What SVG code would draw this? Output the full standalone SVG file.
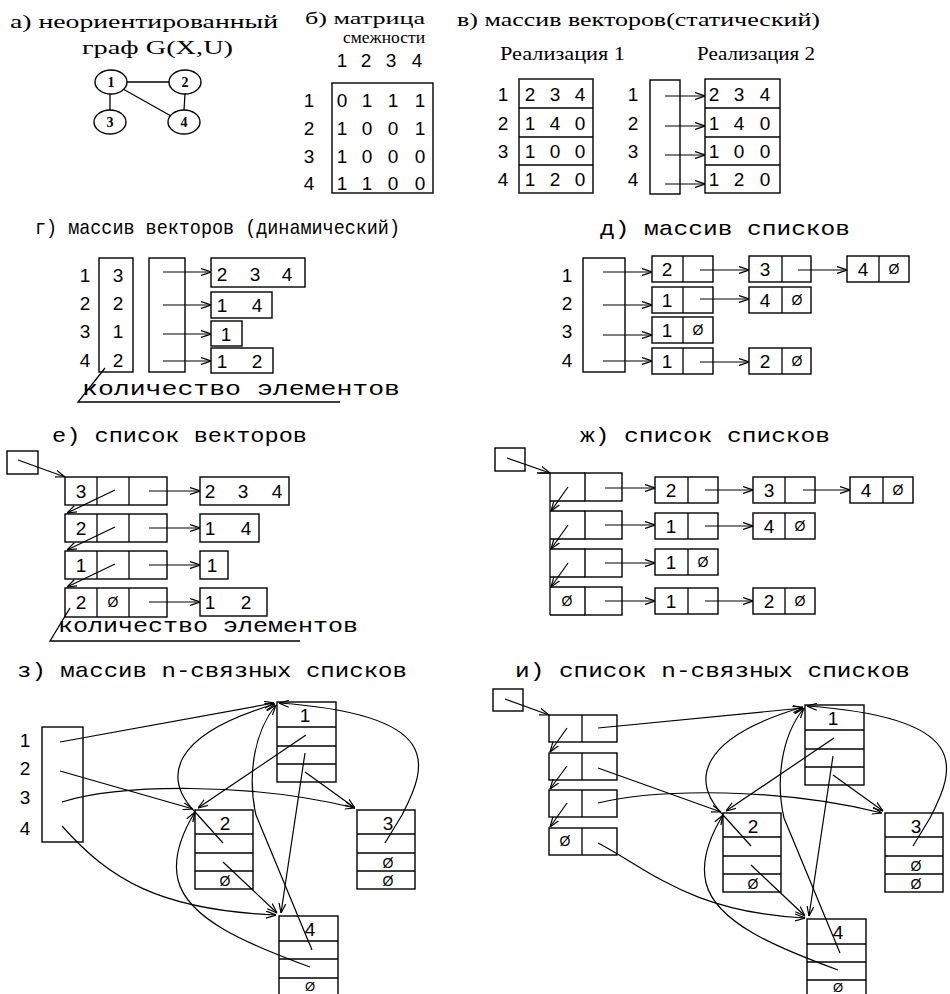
<svg xmlns="http://www.w3.org/2000/svg" width="950" height="994" viewBox="0 0 950 994">
<defs>
<style>
.bg{fill:#fff}
.ln{fill:none;stroke:#000;stroke-width:1.3}
.bx{fill:none;stroke:#000;stroke-width:1.4}
.ar{fill:none;stroke:#000;stroke-width:1.2;marker-end:url(#ah)}
.sr{font-family:"Liberation Serif",serif;font-size:19px;fill:#000}
.mo{font-family:"Liberation Mono",monospace;font-size:21px;fill:#000}
.d{font-family:"Liberation Sans",sans-serif;font-size:19px;fill:#000;text-anchor:middle}
.z{font-family:"Liberation Sans",sans-serif;font-size:14px;fill:#000;text-anchor:middle}
.gn{font-family:"Liberation Serif",serif;font-size:14px;font-weight:bold;fill:#000;text-anchor:middle}
</style>
<marker id="ah" viewBox="0 0 10 8" refX="10" refY="4" markerWidth="10" markerHeight="8" markerUnits="userSpaceOnUse" orient="auto">
<path d="M0,0.5 L10,4 L0,7.5" fill="none" stroke="#000" stroke-width="1.2"/>
</marker>
</defs>
<rect class="bg" x="0" y="0" width="950" height="994"/>

<!-- а) -->
<g id="sec-a">
<text class="sr" x="10" y="28" textLength="268" lengthAdjust="spacingAndGlyphs">а) неориентированный</text>
<text class="sr" x="82" y="54" textLength="151" lengthAdjust="spacingAndGlyphs">граф G(X,U)</text>
<g id="ga-edges">
<line class="ln" x1="127" y1="82" x2="169" y2="82"/>
<line class="ln" x1="110" y1="94" x2="110" y2="110"/>
<line class="ln" x1="123" y1="89" x2="171" y2="116"/>
<line class="ln" x1="185" y1="94" x2="184" y2="110"/>
</g>
<g id="gv1"><ellipse class="bx" cx="111" cy="82" rx="16" ry="12"/><text class="gn" x="111" y="87">1</text></g>
<g id="gv2"><ellipse class="bx" cx="185" cy="82" rx="16" ry="12"/><text class="gn" x="185" y="87">2</text></g>
<g id="gv3"><ellipse class="bx" cx="110" cy="122" rx="16" ry="12"/><text class="gn" x="110" y="127">3</text></g>
<g id="gv4"><ellipse class="bx" cx="184" cy="122" rx="16" ry="12"/><text class="gn" x="184" y="127">4</text></g>
</g>

<!-- б) -->
<g id="sec-b">
<text class="sr" x="305" y="24" textLength="120" lengthAdjust="spacingAndGlyphs" style="font-size:17px">б) матрица</text>
<text class="sr" x="343" y="43" textLength="82" lengthAdjust="spacingAndGlyphs" style="font-size:16px">смежности</text>
<text class="d" x="342" y="67">1</text><text class="d" x="366" y="67">2</text><text class="d" x="391" y="67">3</text><text class="d" x="417" y="67">4</text>
<rect class="bx" x="332" y="83" width="101" height="110"/>
<text class="d" x="309" y="107">1</text><text class="d" x="309" y="135">2</text><text class="d" x="309" y="163">3</text><text class="d" x="309" y="190">4</text>
<text class="d" x="342" y="107">0</text><text class="d" x="367" y="107">1</text><text class="d" x="393" y="107">1</text><text class="d" x="420" y="107">1</text>
<text class="d" x="342" y="135">1</text><text class="d" x="367" y="135">0</text><text class="d" x="393" y="135">0</text><text class="d" x="420" y="135">1</text>
<text class="d" x="342" y="163">1</text><text class="d" x="367" y="163">0</text><text class="d" x="393" y="163">0</text><text class="d" x="420" y="163">0</text>
<text class="d" x="342" y="190">1</text><text class="d" x="367" y="190">1</text><text class="d" x="393" y="190">0</text><text class="d" x="420" y="190">0</text>
</g>

<!-- в) -->
<g id="sec-v">
<text class="sr" x="457" y="26" textLength="363" lengthAdjust="spacingAndGlyphs">в) массив векторов(статический)</text>
<text class="sr" x="500" y="60" textLength="125" lengthAdjust="spacingAndGlyphs">Реализация 1</text>
<text class="sr" x="697" y="60" textLength="118" lengthAdjust="spacingAndGlyphs">Реализация 2</text>
<g id="v-r1">
<rect class="bx" x="519" y="79" width="74" height="114"/>
<line class="ln" x1="519" y1="108" x2="593" y2="108"/><line class="ln" x1="519" y1="137" x2="593" y2="137"/><line class="ln" x1="519" y1="165" x2="593" y2="165"/>
<text class="d" x="503" y="101">1</text><text class="d" x="503" y="130">2</text><text class="d" x="503" y="158">3</text><text class="d" x="503" y="186">4</text>
<text class="d" x="530" y="101">2</text><text class="d" x="555" y="101">3</text><text class="d" x="580" y="101">4</text>
<text class="d" x="530" y="130">1</text><text class="d" x="555" y="130">4</text><text class="d" x="580" y="130">0</text>
<text class="d" x="530" y="158">1</text><text class="d" x="555" y="158">0</text><text class="d" x="580" y="158">0</text>
<text class="d" x="530" y="186">1</text><text class="d" x="555" y="186">2</text><text class="d" x="580" y="186">0</text>
</g>
<g id="v-r2">
<rect class="bx" x="650" y="80" width="30" height="114"/>
<rect class="bx" x="705" y="79" width="75" height="114"/>
<line class="ln" x1="705" y1="108" x2="780" y2="108"/><line class="ln" x1="705" y1="137" x2="780" y2="137"/><line class="ln" x1="705" y1="165" x2="780" y2="165"/>
<text class="d" x="633" y="101">1</text><text class="d" x="633" y="130">2</text><text class="d" x="633" y="158">3</text><text class="d" x="633" y="186">4</text>
<text class="d" x="714" y="101">2</text><text class="d" x="739" y="101">3</text><text class="d" x="765" y="101">4</text>
<text class="d" x="714" y="130">1</text><text class="d" x="739" y="130">4</text><text class="d" x="765" y="130">0</text>
<text class="d" x="714" y="158">1</text><text class="d" x="739" y="158">0</text><text class="d" x="765" y="158">0</text>
<text class="d" x="714" y="186">1</text><text class="d" x="739" y="186">2</text><text class="d" x="765" y="186">0</text>
</g>
<g id="v-conn">
<line class="ar" x1="665" y1="96" x2="705" y2="96"/>
<line class="ar" x1="665" y1="126" x2="705" y2="126"/>
<line class="ar" x1="665" y1="155" x2="705" y2="155"/>
<line class="ar" x1="665" y1="184" x2="705" y2="184"/>
</g>
</g>

<!-- г) -->
<g id="sec-g">
<text class="mo" x="35" y="234" textLength="365" lengthAdjust="spacingAndGlyphs">г) массив векторов (динамический)</text>
<g id="g-count">
<rect class="bx" x="99" y="258" width="34" height="114"/>
<text class="d" x="85" y="282">1</text><text class="d" x="85" y="310">2</text><text class="d" x="85" y="338">3</text><text class="d" x="85" y="367">4</text>
<text class="d" x="118" y="282">3</text><text class="d" x="118" y="310">2</text><text class="d" x="118" y="338">1</text><text class="d" x="118" y="367">2</text>
</g>
<g id="g-ptr"><rect class="bx" x="149" y="258" width="36" height="114"/></g>
<g id="g-v1"><rect class="bx" x="211" y="258" width="94" height="29"/><text class="d" x="222" y="281">2</text><text class="d" x="255" y="281">3</text><text class="d" x="287" y="281">4</text></g>
<g id="g-v2"><rect class="bx" x="211" y="292" width="61" height="26"/><text class="d" x="222" y="312">1</text><text class="d" x="257" y="312">4</text></g>
<g id="g-v3"><rect class="bx" x="211" y="321" width="31" height="25"/><text class="d" x="226" y="341">1</text></g>
<g id="g-v4"><rect class="bx" x="211" y="348" width="62" height="25"/><text class="d" x="222" y="368">1</text><text class="d" x="257" y="368">2</text></g>
<g id="g-conn">
<line class="ar" x1="163" y1="272" x2="211" y2="272"/>
<line class="ar" x1="163" y1="305" x2="211" y2="305"/>
<line class="ar" x1="163" y1="334" x2="211" y2="334"/>
<line class="ar" x1="163" y1="361" x2="211" y2="361"/>
</g>
<g id="g-note">
<polyline class="ln" points="105,368 78,402 340,402"/>
<text class="mo" x="82" y="395" textLength="318" lengthAdjust="spacingAndGlyphs">количество элементов</text>
</g>
</g>

<!-- д) -->
<g id="sec-d">
<text class="mo" x="600" y="235" textLength="250" lengthAdjust="spacingAndGlyphs">д) массив списков</text>
<g id="d-arr">
<rect class="bx" x="583" y="258" width="42" height="114"/>
<text class="d" x="567" y="282">1</text><text class="d" x="567" y="310">2</text><text class="d" x="567" y="338">3</text><text class="d" x="567" y="367">4</text>
</g>
<g id="d-n11"><rect class="bx" x="652" y="256" width="61" height="26"/><line class="ln" x1="683" y1="256" x2="683" y2="282"/><text class="d" x="667" y="276">2</text></g>
<g id="d-n12"><rect class="bx" x="749" y="256" width="62" height="26"/><line class="ln" x1="782" y1="256" x2="782" y2="282"/><text class="d" x="765" y="276">3</text></g>
<g id="d-n13"><rect class="bx" x="847" y="256" width="62" height="26"/><line class="ln" x1="879" y1="256" x2="879" y2="282"/><text class="d" x="863" y="276">4</text><text class="z" x="894" y="274">Ø</text></g>
<g id="d-n21"><rect class="bx" x="652" y="287" width="61" height="26"/><line class="ln" x1="683" y1="287" x2="683" y2="313"/><text class="d" x="667" y="307">1</text></g>
<g id="d-n22"><rect class="bx" x="749" y="287" width="62" height="26"/><line class="ln" x1="782" y1="287" x2="782" y2="313"/><text class="d" x="765" y="307">4</text><text class="z" x="797" y="305">Ø</text></g>
<g id="d-n31"><rect class="bx" x="652" y="317" width="61" height="26"/><line class="ln" x1="683" y1="317" x2="683" y2="343"/><text class="d" x="667" y="337">1</text><text class="z" x="698" y="335">Ø</text></g>
<g id="d-n41"><rect class="bx" x="652" y="348" width="61" height="26"/><line class="ln" x1="683" y1="348" x2="683" y2="374"/><text class="d" x="667" y="368">1</text></g>
<g id="d-n42"><rect class="bx" x="749" y="348" width="62" height="26"/><line class="ln" x1="782" y1="348" x2="782" y2="374"/><text class="d" x="765" y="368">2</text><text class="z" x="797" y="366">Ø</text></g>
<g id="d-conn">
<line class="ar" x1="603" y1="272" x2="652" y2="272"/>
<line class="ar" x1="603" y1="305" x2="652" y2="305"/>
<line class="ar" x1="603" y1="335" x2="652" y2="335"/>
<line class="ar" x1="603" y1="361" x2="652" y2="361"/>
<line class="ar" x1="700" y1="270" x2="749" y2="270"/>
<line class="ar" x1="798" y1="270" x2="847" y2="270"/>
<line class="ar" x1="700" y1="299" x2="749" y2="299"/>
<line class="ar" x1="700" y1="362" x2="749" y2="362"/>
</g>
</g>

<!-- е) -->
<g id="sec-e">
<text class="mo" x="52" y="442" textLength="255" lengthAdjust="spacingAndGlyphs">е) список векторов</text>
<g id="e-head"><rect class="bx" x="7" y="451" width="31" height="23"/></g>
<g id="e-n1"><rect class="bx" x="65" y="477" width="102" height="28"/><line class="ln" x1="97" y1="477" x2="97" y2="505"/><line class="ln" x1="129" y1="477" x2="129" y2="505"/><text class="d" x="81" y="498">3</text></g>
<g id="e-n2"><rect class="bx" x="65" y="514" width="102" height="28"/><line class="ln" x1="97" y1="514" x2="97" y2="542"/><line class="ln" x1="129" y1="514" x2="129" y2="542"/><text class="d" x="81" y="535">2</text></g>
<g id="e-n3"><rect class="bx" x="65" y="551" width="102" height="28"/><line class="ln" x1="97" y1="551" x2="97" y2="579"/><line class="ln" x1="129" y1="551" x2="129" y2="579"/><text class="d" x="81" y="572">1</text></g>
<g id="e-n4"><rect class="bx" x="65" y="588" width="102" height="29"/><line class="ln" x1="97" y1="588" x2="97" y2="617"/><line class="ln" x1="129" y1="588" x2="129" y2="617"/><text class="d" x="81" y="609">2</text><text class="z" x="113" y="607">Ø</text></g>
<g id="e-v1"><rect class="bx" x="200" y="477" width="89" height="28"/><text class="d" x="210" y="498">2</text><text class="d" x="243" y="498">3</text><text class="d" x="277" y="498">4</text></g>
<g id="e-v2"><rect class="bx" x="200" y="514" width="59" height="28"/><text class="d" x="210" y="535">1</text><text class="d" x="246" y="535">4</text></g>
<g id="e-v3"><rect class="bx" x="200" y="551" width="28" height="28"/><text class="d" x="212" y="572">1</text></g>
<g id="e-v4"><rect class="bx" x="200" y="588" width="67" height="28"/><text class="d" x="210" y="609">1</text><text class="d" x="246" y="609">2</text></g>
<g id="e-conn">
<line class="ar" x1="18" y1="460" x2="65" y2="477"/>
<line class="ar" x1="115" y1="490" x2="67" y2="513"/>
<line class="ar" x1="115" y1="527" x2="67" y2="550"/>
<line class="ar" x1="115" y1="564" x2="67" y2="587"/>
<line class="ar" x1="149" y1="491" x2="200" y2="491"/>
<line class="ar" x1="149" y1="528" x2="200" y2="528"/>
<line class="ar" x1="149" y1="565" x2="200" y2="565"/>
<line class="ar" x1="149" y1="602" x2="200" y2="602"/>
</g>
<g id="e-note">
<polyline class="ln" points="70,608 50,641 300,641"/>
<text class="mo" x="58" y="632" textLength="300" lengthAdjust="spacingAndGlyphs">количество элементов</text>
</g>
</g>

<!-- ж) -->
<g id="sec-zh">
<text class="mo" x="580" y="442" textLength="250" lengthAdjust="spacingAndGlyphs">ж) список списков</text>
<g id="zh-head"><rect class="bx" x="495" y="448" width="30" height="23"/></g>
<g id="zh-spine"><line class="ln" x1="550" y1="473" x2="550" y2="615"/></g>
<g id="zh-h1"><polyline class="ln" points="537,473 585,473"/><line class="ln" x1="550" y1="501" x2="585" y2="501"/><rect class="bx" x="585" y="473" width="37" height="28"/></g>
<g id="zh-h2"><line class="ln" x1="550" y1="511" x2="585" y2="511"/><line class="ln" x1="550" y1="539" x2="585" y2="539"/><rect class="bx" x="585" y="511" width="37" height="28"/></g>
<g id="zh-h3"><line class="ln" x1="550" y1="549" x2="585" y2="549"/><line class="ln" x1="550" y1="577" x2="585" y2="577"/><rect class="bx" x="585" y="549" width="37" height="28"/></g>
<g id="zh-h4"><line class="ln" x1="550" y1="587" x2="585" y2="587"/><line class="ln" x1="550" y1="615" x2="585" y2="615"/><rect class="bx" x="585" y="587" width="37" height="28"/><text class="z" x="567" y="606">Ø</text></g>
<g id="zh-n11"><rect class="bx" x="655" y="477" width="63" height="26"/><line class="ln" x1="688" y1="477" x2="688" y2="503"/><text class="d" x="671" y="497">2</text></g>
<g id="zh-n12"><rect class="bx" x="753" y="477" width="62" height="26"/><line class="ln" x1="785" y1="477" x2="785" y2="503"/><text class="d" x="769" y="497">3</text></g>
<g id="zh-n13"><rect class="bx" x="850" y="477" width="63" height="26"/><line class="ln" x1="883" y1="477" x2="883" y2="503"/><text class="d" x="866" y="497">4</text><text class="z" x="898" y="495">Ø</text></g>
<g id="zh-n21"><rect class="bx" x="655" y="513" width="63" height="26"/><line class="ln" x1="688" y1="513" x2="688" y2="539"/><text class="d" x="671" y="533">1</text></g>
<g id="zh-n22"><rect class="bx" x="753" y="513" width="62" height="26"/><line class="ln" x1="785" y1="513" x2="785" y2="539"/><text class="d" x="769" y="533">4</text><text class="z" x="800" y="531">Ø</text></g>
<g id="zh-n31"><rect class="bx" x="655" y="549" width="63" height="26"/><line class="ln" x1="688" y1="549" x2="688" y2="575"/><text class="d" x="671" y="569">1</text><text class="z" x="703" y="567">Ø</text></g>
<g id="zh-n41"><rect class="bx" x="655" y="588" width="63" height="26"/><line class="ln" x1="688" y1="588" x2="688" y2="614"/><text class="d" x="671" y="608">1</text></g>
<g id="zh-n42"><rect class="bx" x="753" y="588" width="62" height="26"/><line class="ln" x1="785" y1="588" x2="785" y2="614"/><text class="d" x="769" y="608">2</text><text class="z" x="800" y="606">Ø</text></g>
<g id="zh-conn">
<line class="ar" x1="507" y1="458" x2="550" y2="473"/>
<line class="ar" x1="568" y1="487" x2="551" y2="511"/>
<line class="ar" x1="568" y1="525" x2="551" y2="549"/>
<line class="ar" x1="568" y1="563" x2="551" y2="587"/>
<line class="ar" x1="605" y1="488" x2="655" y2="488"/>
<line class="ar" x1="605" y1="525" x2="655" y2="525"/>
<line class="ar" x1="605" y1="563" x2="655" y2="563"/>
<line class="ar" x1="605" y1="601" x2="655" y2="601"/>
<line class="ar" x1="705" y1="490" x2="753" y2="490"/>
<line class="ar" x1="803" y1="490" x2="850" y2="490"/>
<line class="ar" x1="705" y1="526" x2="753" y2="526"/>
<line class="ar" x1="705" y1="601" x2="753" y2="601"/>
</g>
</g>

<!-- з) -->
<g id="sec-z">
<text class="mo" x="17" y="677" textLength="390" lengthAdjust="spacingAndGlyphs">з) массив n-связных списков</text>
<g id="z-arr">
<rect class="bx" x="42" y="727" width="41" height="115"/>
<text class="d" x="25" y="747">1</text><text class="d" x="25" y="775">2</text><text class="d" x="25" y="804">3</text><text class="d" x="25" y="835">4</text>
</g>
<g id="z-n1"><rect class="bx" x="277" y="702" width="59" height="80"/><line class="ln" x1="277" y1="727" x2="336" y2="727"/><line class="ln" x1="277" y1="746" x2="336" y2="746"/><line class="ln" x1="277" y1="764" x2="336" y2="764"/><text class="d" x="305" y="722">1</text></g>
<g id="z-n2"><rect class="bx" x="195" y="810" width="58" height="79"/><line class="ln" x1="195" y1="834" x2="253" y2="834"/><line class="ln" x1="195" y1="853" x2="253" y2="853"/><line class="ln" x1="195" y1="871" x2="253" y2="871"/><text class="d" x="225" y="830">2</text><text class="z" x="225" y="886">Ø</text></g>
<g id="z-n3"><rect class="bx" x="357" y="810" width="58" height="79"/><line class="ln" x1="357" y1="834" x2="415" y2="834"/><line class="ln" x1="357" y1="853" x2="415" y2="853"/><line class="ln" x1="357" y1="871" x2="415" y2="871"/><text class="d" x="388" y="830">3</text><text class="z" x="388" y="868">Ø</text><text class="z" x="388" y="886">Ø</text></g>
<g id="z-n4"><rect class="bx" x="279" y="916" width="59" height="82"/><line class="ln" x1="279" y1="941" x2="338" y2="941"/><line class="ln" x1="279" y1="959" x2="338" y2="959"/><line class="ln" x1="279" y1="978" x2="338" y2="978"/><text class="d" x="310" y="936">4</text><text class="z" x="310" y="991" style="font-size:13px">Ø</text></g>
<g id="z-conn">
<path class="ar" d="M60,742 L274,703"/>
<path class="ar" d="M60,771 L193,809"/>
<path class="ar" d="M62,802 C120,784 250,782 355,808"/>
<path class="ar" d="M62,826 C110,880 160,910 276,915"/>
<g id="z-inner">
<path class="ar" d="M306,735 L198,808"/>
<path class="ar" d="M305,753 L281,913"/>
<path class="ar" d="M305,772 L355,808"/>
<path class="ar" d="M223,843 L196,813 C162,778 170,735 275,704"/>
<path class="ar" d="M223,862 L277,913"/>
<path class="ar" d="M385,843 L402,815 C428,765 445,715 279,703"/>
<path class="ar" d="M312,950 L256,815 C248,780 252,735 276,705"/>
<path class="ar" d="M310,967 C250,945 188,920 178,880 C172,855 184,830 195,812"/>
</g>
</g>
</g>

<!-- и) -->
<g id="sec-i">
<text class="mo" x="515" y="677" textLength="395" lengthAdjust="spacingAndGlyphs">и) список n-связных списков</text>
<g id="i-head"><rect class="bx" x="493" y="689" width="30" height="22"/></g>
<g id="i-h1"><rect class="bx" x="549" y="715" width="68" height="27"/><line class="ln" x1="582" y1="715" x2="582" y2="742"/></g>
<g id="i-h2"><rect class="bx" x="549" y="753" width="68" height="27"/><line class="ln" x1="582" y1="753" x2="582" y2="780"/></g>
<g id="i-h3"><rect class="bx" x="549" y="790" width="68" height="27"/><line class="ln" x1="582" y1="790" x2="582" y2="817"/></g>
<g id="i-h4"><rect class="bx" x="549" y="828" width="68" height="27"/><line class="ln" x1="582" y1="828" x2="582" y2="855"/><text class="z" x="565" y="846">Ø</text></g>
<g transform="translate(528,3)">
<g id="i-n1"><rect class="bx" x="277" y="702" width="59" height="80"/><line class="ln" x1="277" y1="727" x2="336" y2="727"/><line class="ln" x1="277" y1="746" x2="336" y2="746"/><line class="ln" x1="277" y1="764" x2="336" y2="764"/><text class="d" x="305" y="722">1</text></g>
<g id="i-n2"><rect class="bx" x="195" y="810" width="58" height="79"/><line class="ln" x1="195" y1="834" x2="253" y2="834"/><line class="ln" x1="195" y1="853" x2="253" y2="853"/><line class="ln" x1="195" y1="871" x2="253" y2="871"/><text class="d" x="225" y="830">2</text><text class="z" x="225" y="886">Ø</text></g>
<g id="i-n3"><rect class="bx" x="357" y="810" width="58" height="79"/><line class="ln" x1="357" y1="834" x2="415" y2="834"/><line class="ln" x1="357" y1="853" x2="415" y2="853"/><line class="ln" x1="357" y1="871" x2="415" y2="871"/><text class="d" x="388" y="830">3</text><text class="z" x="388" y="868">Ø</text><text class="z" x="388" y="886">Ø</text></g>
<g id="i-n4"><rect class="bx" x="279" y="916" width="59" height="82"/><line class="ln" x1="279" y1="941" x2="338" y2="941"/><line class="ln" x1="279" y1="959" x2="338" y2="959"/><line class="ln" x1="279" y1="977" x2="338" y2="977"/><text class="d" x="310" y="936">4</text><text class="z" x="310" y="989" style="font-size:13px">Ø</text></g>
</g>
<g id="i-conn">
<line class="ar" x1="505" y1="699" x2="549" y2="715"/>
<line class="ar" x1="567" y1="728" x2="550" y2="752"/>
<line class="ar" x1="567" y1="766" x2="550" y2="789"/>
<line class="ar" x1="567" y1="803" x2="550" y2="827"/>
<path class="ar" d="M598,728 L803,708"/>
<path class="ar" d="M598,768 L721,812"/>
<path class="ar" d="M598,803 C660,788 780,788 882,813"/>
<path class="ar" d="M598,843 C650,870 690,912 805,918"/>
<g transform="translate(528,3)">
<path class="ar" d="M306,735 L198,808"/>
<path class="ar" d="M305,753 L281,913"/>
<path class="ar" d="M305,772 L355,808"/>
<path class="ar" d="M223,843 L196,813 C162,778 170,735 275,704"/>
<path class="ar" d="M223,862 L277,913"/>
<path class="ar" d="M385,843 L402,815 C428,765 445,715 279,703"/>
<path class="ar" d="M312,950 L256,815 C248,780 252,735 276,705"/>
<path class="ar" d="M310,967 C250,945 188,920 178,880 C172,855 184,830 195,812"/>
</g>
</g>
</g>
</svg>
